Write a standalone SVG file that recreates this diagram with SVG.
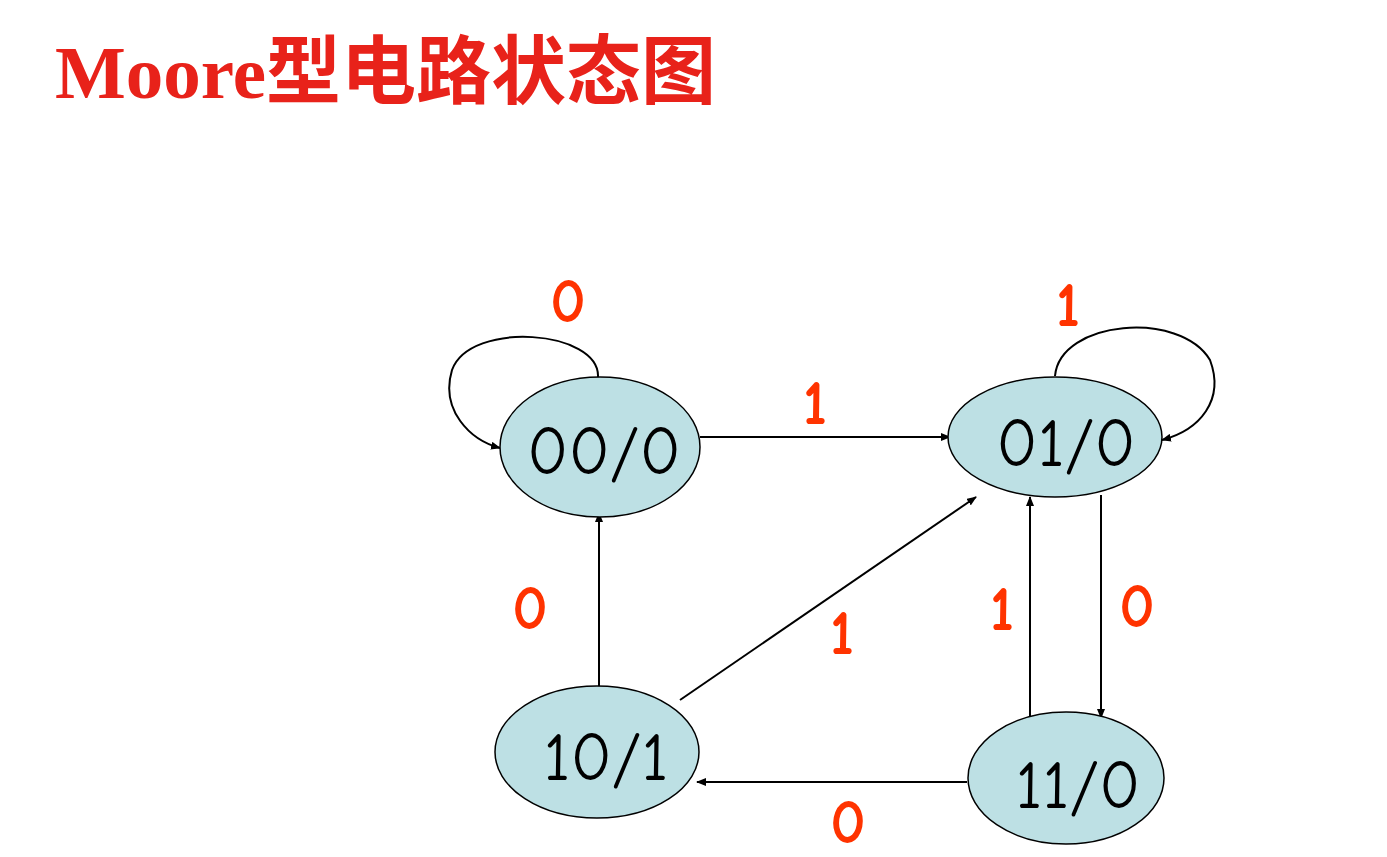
<svg xmlns="http://www.w3.org/2000/svg" width="1387" height="857" viewBox="0 0 1387 857">
<style>
.n{fill:#BDE0E4;stroke:#000;stroke-width:1.5}
.t{font-family:"Comic Neue","DejaVu Sans",sans-serif;font-size:68px;fill:#000;text-anchor:middle}
.l{font-family:"Comic Neue","DejaVu Sans",sans-serif;font-size:62px;font-weight:bold;fill:#FF3300;text-anchor:middle}
.c{stroke:#000;stroke-width:2;fill:none;marker-end:url(#a)}
</style>
<defs><marker id="a" markerWidth="10" markerHeight="8" refX="9" refY="4" orient="auto" markerUnits="userSpaceOnUse"><path d="M0,0L10,4L0,8z" fill="#000"/></marker></defs>
<rect width="1387" height="857" fill="#fff"/>
<text x="55" y="98" font-family="Liberation Serif,'Noto Sans CJK SC',serif" font-weight="bold" font-size="75" fill="#E8221A">Moore型电路状态图</text>
<g id="connectors">
<path class="c" d="M700,437L950,437"/>
<path class="c" d="M598,377C600,330 470,320 452,370C440,410 470,440 500,448"/>
<path class="c" d="M1055,376C1060,320 1180,310 1210,360C1225,400 1200,430 1162,440"/>
<path class="c" d="M599,686L599,513"/>
<path class="c" d="M680,700L976,497"/>
<path class="c" d="M1030,716L1030,497"/>
<path class="c" d="M1101,495L1101,718"/>
<path class="c" d="M967,782L697,782"/>
</g>
<g id="s00"><ellipse class="n" cx="600" cy="447" rx="100" ry="70"/><text class="t" x="604" y="474">00/0</text></g>
<g id="s01"><ellipse class="n" cx="1055" cy="437" rx="107" ry="60"/><text class="t" x="1066" y="466">01/0</text></g>
<g id="s10"><ellipse class="n" cx="597" cy="752" rx="102" ry="66"/><text class="t" x="606" y="780">10/1</text></g>
<g id="s11"><ellipse class="n" cx="1066" cy="778" rx="98" ry="66"/><text class="t" x="1078" y="808">11/0</text></g>
<g id="labels">
<text class="l" x="568" y="322">0</text>
<text class="l" x="815" y="424">1</text>
<text class="l" x="1068" y="326">1</text>
<text class="l" x="530" y="629">0</text>
<text class="l" x="842" y="654">1</text>
<text class="l" x="1002" y="630">1</text>
<text class="l" x="1137" y="627">0</text>
<text class="l" x="848" y="843">0</text>
</g>
</svg>
